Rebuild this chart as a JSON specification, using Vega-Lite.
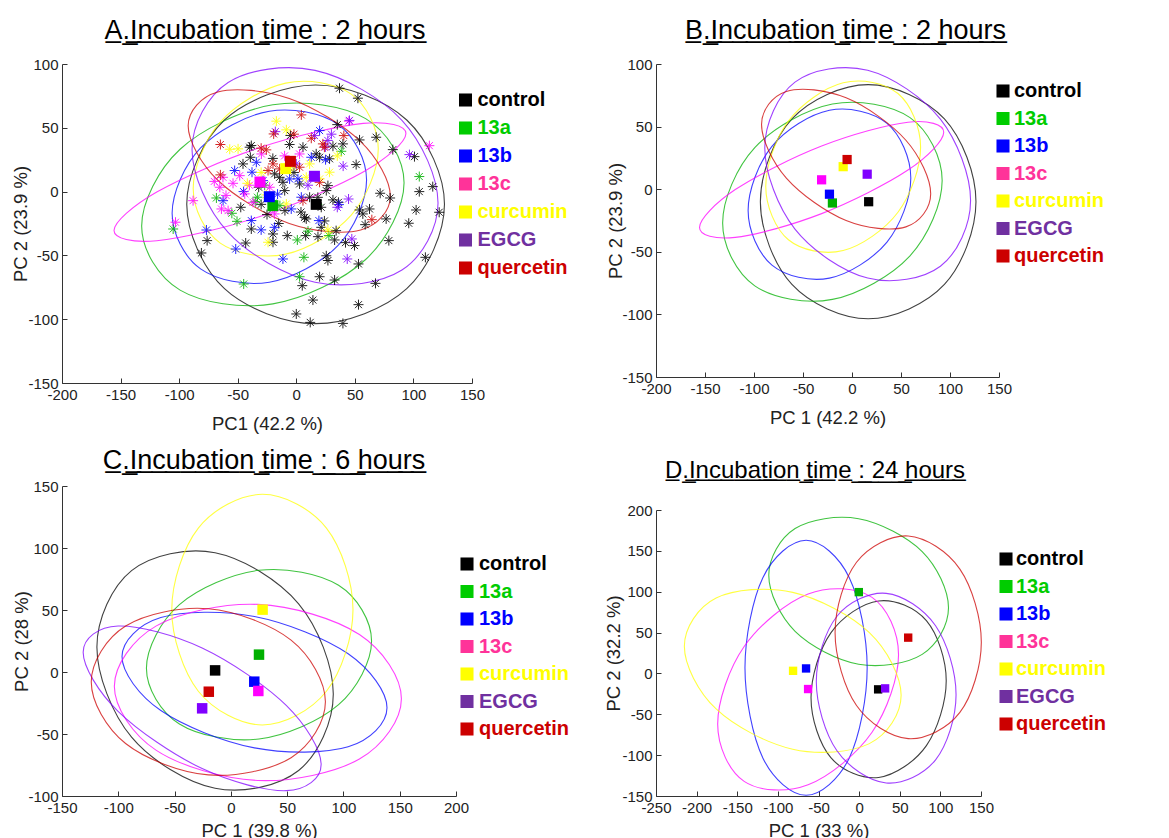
{
  "$schema": "https://vega.github.io/schema/vega-lite/v6.json",
  "background": "white",
  "padding": {"left": 11, "top": 17, "right": 0, "bottom": 0},
  "spacing": 34,
  "resolve": {"scale": {"color": "independent"}},
  "datasets": {
    "ellAB": [
      {"g":"control","i":0,"x":126.5,"y":-10},{"g":"control","i":1,"x":94.3,"y":56.1},{"g":"control","i":2,"x":16.5,"y":83.5},{"g":"control","i":3,"x":-61.3,"y":56.1},{"g":"control","i":4,"x":-93.5,"y":-10},{"g":"control","i":5,"x":-61.3,"y":-76.1},{"g":"control","i":6,"x":16.5,"y":-103.5},{"g":"control","i":7,"x":94.3,"y":-76.1},
      {"g":"13a","i":0,"x":92,"y":7},{"g":"13a","i":1,"x":59.2,"y":57.2},{"g":"13a","i":2,"x":-20,"y":68},{"g":"13a","i":3,"x":-99.2,"y":33.2},{"g":"13a","i":4,"x":-132,"y":-27},{"g":"13a","i":5,"x":-99.2,"y":-77.2},{"g":"13a","i":6,"x":-20,"y":-88},{"g":"13a","i":7,"x":59.2,"y":-53.2},
      {"g":"13b","i":0,"x":60,"y":9},{"g":"13b","i":1,"x":35.7,"y":52.6},{"g":"13b","i":2,"x":-23,"y":63},{"g":"13b","i":3,"x":-81.7,"y":34.2},{"g":"13b","i":4,"x":-106,"y":-17},{"g":"13b","i":5,"x":-81.7,"y":-60.6},{"g":"13b","i":6,"x":-23,"y":-71},{"g":"13b","i":7,"x":35.7,"y":-42.2},
      {"g":"13c","i":0,"x":93.6,"y":45.5},{"g":"13c","i":1,"x":57.1,"y":53.5},{"g":"13c","i":2,"x":-31,"y":34.5},{"g":"13c","i":3,"x":-119.1,"y":-0.3},{"g":"13c","i":4,"x":-155.6,"y":-30.5},{"g":"13c","i":5,"x":-119.1,"y":-38.5},{"g":"13c","i":6,"x":-31,"y":-19.5},{"g":"13c","i":7,"x":57.1,"y":15.3},
      {"g":"curcumin","i":0,"x":70,"y":33.6},{"g":"curcumin","i":1,"x":46.9,"y":76.4},{"g":"curcumin","i":2,"x":-9,"y":85},{"g":"curcumin","i":3,"x":-64.9,"y":54.4},{"g":"curcumin","i":4,"x":-88,"y":2.4},{"g":"curcumin","i":5,"x":-64.9,"y":-40.4},{"g":"curcumin","i":6,"x":-9,"y":-49},{"g":"curcumin","i":7,"x":46.9,"y":-18.4},
      {"g":"EGCG","i":0,"x":121,"y":-9},{"g":"EGCG","i":1,"x":90.2,"y":55.9},{"g":"EGCG","i":2,"x":16,"y":95},{"g":"EGCG","i":3,"x":-58.2,"y":85.5},{"g":"EGCG","i":4,"x":-89,"y":33},{"g":"EGCG","i":5,"x":-58.2,"y":-31.9},{"g":"EGCG","i":6,"x":16,"y":-71},{"g":"EGCG","i":7,"x":90.2,"y":-61.5},
      {"g":"quercetin","i":0,"x":80.3,"y":-3.6},{"g":"quercetin","i":1,"x":55,"y":39.1},{"g":"quercetin","i":2,"x":-6,"y":73},{"g":"quercetin","i":3,"x":-67,"y":78.1},{"g":"quercetin","i":4,"x":-92.3,"y":51.6},{"g":"quercetin","i":5,"x":-67,"y":8.9},{"g":"quercetin","i":6,"x":-6,"y":-25},{"g":"quercetin","i":7,"x":55,"y":-30.1}
    ],
    "meanAB": [
      {"g":"control","x":17,"y":-10},{"g":"13a","x":-20,"y":-11},{"g":"13b","x":-23,"y":-4},{"g":"13c","x":-31,"y":7.5},{"g":"curcumin","x":-9,"y":18},{"g":"EGCG","x":15.5,"y":12},{"g":"quercetin","x":-5,"y":23.7}
    ],
    "starsA": [
      {"g":"control","x":36.9,"y":81},{"g":"control","x":52.6,"y":73.2},{"g":"control","x":35,"y":52.5},{"g":"control","x":-5.7,"y":36.9},{"g":"control","x":68.2,"y":42.6},{"g":"control","x":54,"y":40.5},{"g":"control","x":31.3,"y":35.6},{"g":"control","x":39.8,"y":37.4},{"g":"control","x":82.4,"y":32.9},{"g":"control","x":100.9,"y":27.4},{"g":"control","x":-39.8,"y":34.8},{"g":"control","x":19.9,"y":26.9},{"g":"control","x":51.1,"y":21.2},{"g":"control","x":116.5,"y":3.9},{"g":"control","x":105,"y":0},{"g":"control","x":122,"y":-16.2},{"g":"control","x":102.3,"y":-14.4},{"g":"control","x":71.6,"y":-1.3},{"g":"control","x":80.1,"y":-5},{"g":"control","x":54,"y":-14.4},{"g":"control","x":62.5,"y":-13.6},{"g":"control","x":58.8,"y":-25.9},{"g":"control","x":76.7,"y":-21.4},{"g":"control","x":96,"y":-24.8},{"g":"control","x":79,"y":-38.4},{"g":"control","x":110.2,"y":-51.5},{"g":"control","x":67.6,"y":-71.9},{"g":"control","x":53.1,"y":-88.6},{"g":"control","x":39.8,"y":-103.3},{"g":"control","x":11.9,"y":-102.5},{"g":"control","x":0,"y":-95.9},{"g":"control","x":14.2,"y":-85},{"g":"control","x":19.9,"y":-66.7},{"g":"control","x":32.7,"y":-69.3},{"g":"control","x":5.1,"y":-73.7},{"g":"control","x":53.1,"y":-56.7},{"g":"control","x":27,"y":-54},{"g":"control","x":25.6,"y":-50.3},{"g":"control","x":49.7,"y":-42.3},{"g":"control","x":32.7,"y":-37.9},{"g":"control","x":34,"y":-30.6},{"g":"control","x":18.5,"y":-35.3},{"g":"control","x":8,"y":-34.5},{"g":"control","x":-7.7,"y":-34.5},{"g":"control","x":-19.9,"y":-39.7},{"g":"control","x":-19.9,"y":-33.2},{"g":"control","x":8.5,"y":-21.4},{"g":"control","x":7.1,"y":-20.2},{"g":"control","x":21.3,"y":-28},{"g":"control","x":31.3,"y":-6.5},{"g":"control","x":36,"y":-8.4},{"g":"control","x":18.4,"y":-4.5},{"g":"control","x":21.3,"y":-12.3},{"g":"control","x":56.8,"y":-17.5},{"g":"control","x":-14.2,"y":11.2},{"g":"control","x":-9.9,"y":0.8},{"g":"control","x":-76.1,"y":-38.4},{"g":"control","x":-81,"y":-48.1},{"g":"control","x":-43.2,"y":-40.3},{"g":"control","x":-38.4,"y":-29.3},{"g":"control","x":-47.4,"y":-12.3},{"g":"control","x":-45.5,"y":21.7},{"g":"control","x":-39.2,"y":26.9},{"g":"control","x":-18.5,"y":13.9},{"g":"control","x":-32.1,"y":3.4},{"g":"control","x":-11.4,"y":7.3},{"g":"control","x":2.8,"y":6},{"g":"control","x":27,"y":4.7},{"g":"control","x":11.4,"y":-4.4},{"g":"control","x":25.6,"y":0.8},{"g":"control","x":-9.7,"y":-14.9},{"g":"control","x":-38.4,"y":36.1},{"g":"control","x":-5,"y":44},{"g":"control","x":-20,"y":26},{"g":"control","x":-2,"y":15},{"g":"control","x":24,"y":-23},{"g":"control","x":-25,"y":-18},{"g":"control","x":4,"y":-16},{"g":"control","x":28.4,"y":25.7},{"g":"control","x":17,"y":29.6},{"g":"control","x":5.7,"y":34.8},{"g":"control","x":-30,"y":-10},{"g":"control","x":-15,"y":-25},{"g":"control","x":42,"y":-40},
      {"g":"13a","x":38.4,"y":31.6},{"g":"13a","x":105,"y":11.8},{"g":"13a","x":2.8,"y":-66.7},{"g":"13a","x":27.8,"y":-34.5},{"g":"13a","x":0.9,"y":-37.9},{"g":"13a","x":6.5,"y":-51.5},{"g":"13a","x":-105.1,"y":-29.3},{"g":"13a","x":-44.9,"y":-72.4},{"g":"13a","x":-50.6,"y":-23.3},{"g":"13a","x":-68.2,"y":-5},{"g":"13a","x":-33.2,"y":-4.4},{"g":"13a","x":-20,"y":-9},{"g":"13a","x":-14,"y":-11},{"g":"13a","x":10,"y":-31},{"g":"13a","x":18,"y":-10},{"g":"13a","x":-27,"y":5},{"g":"13a","x":-55,"y":-17},{"g":"13a","x":-35,"y":-8},
      {"g":"13b","x":19.9,"y":47.8},{"g":"13b","x":-11.4,"y":-52.8},{"g":"13b","x":-18.5,"y":-28},{"g":"13b","x":19.3,"y":-22.7},{"g":"13b","x":-4.3,"y":-13.6},{"g":"13b","x":-76.7,"y":-30.1},{"g":"13b","x":-51.7,"y":-45},{"g":"13b","x":-38.4,"y":-22.7},{"g":"13b","x":-62.5,"y":-7.1},{"g":"13b","x":-52.6,"y":16.5},{"g":"13b","x":-37.8,"y":15.2},{"g":"13b","x":-34.1,"y":23},{"g":"13b","x":-28.4,"y":8.6},{"g":"13b","x":-5.7,"y":9.9},{"g":"13b","x":12.8,"y":26.9},{"g":"13b","x":4.3,"y":-4.4},{"g":"13b","x":36.4,"y":-10.2},{"g":"13b","x":-45,"y":0},{"g":"13b","x":-16,"y":-2},{"g":"13b","x":-30,"y":-30},{"g":"13b","x":25,"y":25},{"g":"13b","x":1.4,"y":10},
      {"g":"13c","x":44.9,"y":55.2},{"g":"13c","x":113.6,"y":36},{"g":"13c","x":2.8,"y":29.5},{"g":"13c","x":-88.1,"y":-7.1},{"g":"13c","x":-103.1,"y":-24},{"g":"13c","x":-63.9,"y":-13.6},{"g":"13c","x":-58.2,"y":-14.9},{"g":"13c","x":-65.3,"y":3.4},{"g":"13c","x":-54,"y":6.5},{"g":"13c","x":-48.3,"y":12.5},{"g":"13c","x":-44,"y":-1.8},{"g":"13c","x":-29.8,"y":29.5},{"g":"13c","x":-36.9,"y":-8.4},{"g":"13c","x":-18.5,"y":-17.5},{"g":"13c","x":-22.7,"y":3.4},{"g":"13c","x":-60,"y":-3},{"g":"13c","x":-40,"y":5},{"g":"13c","x":-70,"y":8},{"g":"13c","x":-10,"y":28},{"g":"13c","x":-62.6,"y":11.2},
      {"g":"curcumin","x":-17,"y":55.2},{"g":"curcumin","x":-8.5,"y":48.4},{"g":"curcumin","x":-56.8,"y":33.2},{"g":"curcumin","x":-49.7,"y":33.5},{"g":"curcumin","x":-41.8,"y":6.5},{"g":"curcumin","x":-25.6,"y":-2.6},{"g":"curcumin","x":11.4,"y":21.7},{"g":"curcumin","x":28.4,"y":15.2},{"g":"curcumin","x":8.5,"y":11.2},{"g":"curcumin","x":-8.5,"y":-9.7},{"g":"curcumin","x":-24.1,"y":-39.7},{"g":"curcumin","x":-3,"y":20},{"g":"curcumin","x":20,"y":10},{"g":"curcumin","x":-30,"y":15},{"g":"curcumin","x":35,"y":28},{"g":"curcumin","x":27,"y":-30},
      {"g":"EGCG","x":-17.9,"y":47},{"g":"EGCG","x":15.6,"y":43.9},{"g":"EGCG","x":96.6,"y":29},{"g":"EGCG","x":43.5,"y":-52.8},{"g":"EGCG","x":47.4,"y":-37.1},{"g":"EGCG","x":35,"y":-12.3},{"g":"EGCG","x":0,"y":21.7},{"g":"EGCG","x":25,"y":35},{"g":"EGCG","x":40,"y":20},{"g":"EGCG","x":30,"y":45},{"g":"EGCG","x":10,"y":5},{"g":"EGCG","x":44.6,"y":-5.8},{"g":"EGCG","x":45.4,"y":55.8},{"g":"EGCG","x":26.9,"y":40.1},
      {"g":"quercetin","x":4.3,"y":60.1},{"g":"quercetin","x":-19.3,"y":45.2},{"g":"quercetin","x":12.8,"y":41.8},{"g":"quercetin","x":40.6,"y":43.9},{"g":"quercetin","x":-64.8,"y":36.9},{"g":"quercetin","x":-30,"y":34},{"g":"quercetin","x":-25.6,"y":32.7},{"g":"quercetin","x":24,"y":34.8},{"g":"quercetin","x":64.5,"y":-22},{"g":"quercetin","x":-64.8,"y":13.1},{"g":"quercetin","x":-19.9,"y":21.7},{"g":"quercetin","x":-24.1,"y":16.5},{"g":"quercetin","x":-14.2,"y":17.8},{"g":"quercetin","x":2.8,"y":19.1},{"g":"quercetin","x":19.9,"y":7.3},{"g":"quercetin","x":5.7,"y":-7.1},{"g":"quercetin","x":-2,"y":45},{"g":"quercetin","x":22.7,"y":37.4}
    ],
    "ellC": [
      {"g":"control","i":0,"x":91,"y":-17.8},{"g":"control","i":1,"x":60.2,"y":55},{"g":"control","i":2,"x":-14,"y":96.2},{"g":"control","i":3,"x":-88.2,"y":81.8},{"g":"control","i":4,"x":-119,"y":20.2},{"g":"control","i":5,"x":-88.2,"y":-52.6},{"g":"control","i":6,"x":-14,"y":-93.8},{"g":"control","i":7,"x":60.2,"y":-79.4},
      {"g":"13a","i":0,"x":125,"y":25},{"g":"13a","i":1,"x":95.7,"y":69.9},{"g":"13a","i":2,"x":25,"y":82},{"g":"13a","i":3,"x":-45.7,"y":54.3},{"g":"13a","i":4,"x":-75,"y":3},{"g":"13a","i":5,"x":-45.7,"y":-41.9},{"g":"13a","i":6,"x":25,"y":-54},{"g":"13a","i":7,"x":95.7,"y":-26.3},
      {"g":"13b","i":0,"x":138.7,"y":-28.8},{"g":"13b","i":1,"x":104.2,"y":14.7},{"g":"13b","i":2,"x":21,"y":44.8},{"g":"13b","i":3,"x":-62.2,"y":43.9},{"g":"13b","i":4,"x":-96.7,"y":12.4},{"g":"13b","i":5,"x":-62.2,"y":-31.1},{"g":"13b","i":6,"x":21,"y":-61.2},{"g":"13b","i":7,"x":104.2,"y":-60.3},
      {"g":"13c","i":0,"x":151.5,"y":-21.5},{"g":"13c","i":1,"x":114.2,"y":30.2},{"g":"13c","i":2,"x":24,"y":54.5},{"g":"13c","i":3,"x":-66.2,"y":37.2},{"g":"13c","i":4,"x":-103.5,"y":-11.5},{"g":"13c","i":5,"x":-66.2,"y":-63.2},{"g":"13c","i":6,"x":24,"y":-87.5},{"g":"13c","i":7,"x":114.2,"y":-70.2},
      {"g":"curcumin","i":0,"x":108.5,"y":50.3},{"g":"curcumin","i":1,"x":84.9,"y":116.1},{"g":"curcumin","i":2,"x":28,"y":143.3},{"g":"curcumin","i":3,"x":-28.9,"y":116.1},{"g":"curcumin","i":4,"x":-52.5,"y":50.3},{"g":"curcumin","i":5,"x":-28.9,"y":-15.5},{"g":"curcumin","i":6,"x":28,"y":-42.7},{"g":"curcumin","i":7,"x":84.9,"y":-15.5},
      {"g":"EGCG","i":0,"x":80.2,"y":-74.5},{"g":"EGCG","i":1,"x":49.2,"y":-26.9},{"g":"EGCG","i":2,"x":-25.5,"y":19.3},{"g":"EGCG","i":3,"x":-100.2,"y":37.1},{"g":"EGCG","i":4,"x":-131.2,"y":15.9},{"g":"EGCG","i":5,"x":-100.2,"y":-31.7},{"g":"EGCG","i":6,"x":-25.5,"y":-77.9},{"g":"EGCG","i":7,"x":49.2,"y":-95.7},
      {"g":"quercetin","i":0,"x":84,"y":-24},{"g":"quercetin","i":1,"x":53.5,"y":25.7},{"g":"quercetin","i":2,"x":-20,"y":51},{"g":"quercetin","i":3,"x":-93.5,"y":37.1},{"g":"quercetin","i":4,"x":-124,"y":-8},{"g":"quercetin","i":5,"x":-93.5,"y":-57.7},{"g":"quercetin","i":6,"x":-20,"y":-83},{"g":"quercetin","i":7,"x":53.5,"y":-69.1}
    ],
    "meanC": [
      {"g":"control","x":-14,"y":1.3},{"g":"13a","x":25,"y":14},{"g":"13b","x":20.8,"y":-7.8},{"g":"13c","x":24.4,"y":-15.3},{"g":"curcumin","x":28.2,"y":50.3},{"g":"EGCG","x":-25.5,"y":-29.3},{"g":"quercetin","x":-19.6,"y":-15.9}
    ],
    "ellD": [
      {"g":"control","i":0,"x":107.2,"y":-8.9},{"g":"control","i":1,"x":82.8,"y":64.5},{"g":"control","i":2,"x":24,"y":88.7},{"g":"control","i":3,"x":-34.8,"y":49.7},{"g":"control","i":4,"x":-59.2,"y":-29.7},{"g":"control","i":5,"x":-34.8,"y":-103.1},{"g":"control","i":6,"x":24,"y":-127.3},{"g":"control","i":7,"x":82.8,"y":-88.3},
      {"g":"13a","i":0,"x":110,"y":80.3},{"g":"13a","i":1,"x":77.6,"y":149.1},{"g":"13a","i":2,"x":-0.6,"y":189.3},{"g":"13a","i":3,"x":-78.8,"y":177.3},{"g":"13a","i":4,"x":-111.2,"y":120.3},{"g":"13a","i":5,"x":-78.8,"y":51.5},{"g":"13a","i":6,"x":-0.6,"y":11.3},{"g":"13a","i":7,"x":77.6,"y":23.3},
      {"g":"13b","i":0,"x":9.9,"y":6.9},{"g":"13b","i":1,"x":-12.1,"y":117.2},{"g":"13b","i":2,"x":-65.3,"y":162.9},{"g":"13b","i":3,"x":-118.5,"y":117.2},{"g":"13b","i":4,"x":-140.5,"y":6.9},{"g":"13b","i":5,"x":-118.5,"y":-103.4},{"g":"13b","i":6,"x":-65.3,"y":-149.1},{"g":"13b","i":7,"x":-12.1,"y":-103.4},
      {"g":"13c","i":0,"x":48.5,"y":23},{"g":"13c","i":1,"x":15.9,"y":93.1},{"g":"13c","i":2,"x":-62.8,"y":97.2},{"g":"13c","i":3,"x":-141.5,"y":32.9},{"g":"13c","i":4,"x":-174.1,"y":-62},{"g":"13c","i":5,"x":-141.5,"y":-132.1},{"g":"13c","i":6,"x":-62.8,"y":-136.2},{"g":"13c","i":7,"x":15.9,"y":-72},
      {"g":"curcumin","i":0,"x":51.7,"y":-26.8},{"g":"curcumin","i":1,"x":12.6,"y":49.9},{"g":"curcumin","i":2,"x":-81.7,"y":99.2},{"g":"curcumin","i":3,"x":-176,"y":92.3},{"g":"curcumin","i":4,"x":-215.1,"y":33.2},{"g":"curcumin","i":5,"x":-176,"y":-43.5},{"g":"curcumin","i":6,"x":-81.7,"y":-92.8},{"g":"curcumin","i":7,"x":12.6,"y":-85.9},
      {"g":"EGCG","i":0,"x":119.3,"y":-26},{"g":"EGCG","i":1,"x":94.1,"y":58.3},{"g":"EGCG","i":2,"x":33.3,"y":98},{"g":"EGCG","i":3,"x":-27.5,"y":69.7},{"g":"EGCG","i":4,"x":-52.7,"y":-10},{"g":"EGCG","i":5,"x":-27.5,"y":-94.3},{"g":"EGCG","i":6,"x":33.3,"y":-134},{"g":"EGCG","i":7,"x":94.1,"y":-105.7},
      {"g":"quercetin","i":0,"x":150.4,"y":38.2},{"g":"quercetin","i":1,"x":124,"y":127.7},{"g":"quercetin","i":2,"x":60.4,"y":168.2},{"g":"quercetin","i":3,"x":-3.2,"y":136.1},{"g":"quercetin","i":4,"x":-29.6,"y":50.2},{"g":"quercetin","i":5,"x":-3.2,"y":-39.3},{"g":"quercetin","i":6,"x":60.4,"y":-79.8},{"g":"quercetin","i":7,"x":124,"y":-47.7}
    ],
    "meanD": [
      {"g":"control","x":23.4,"y":-19.5},{"g":"13a","x":-0.4,"y":99.5},{"g":"13b","x":-65.3,"y":6.1},{"g":"13c","x":-62.8,"y":-19.1},{"g":"curcumin","x":-81.3,"y":3.2},{"g":"EGCG","x":32,"y":-18.3},{"g":"quercetin","x":60.4,"y":43.8}
    ]
  },
  "hconcat": [
    {
      "spacing": 103,
      "bounds": "flush",
      "resolve": {"scale": {"color": "independent"}},
      "vconcat": [
        {
          "width": 410, "height": 319,
          "title": {"text": "A\u0332.\u0332I\u0332n\u0332c\u0332u\u0332b\u0332a\u0332t\u0332i\u0332o\u0332n\u0332 \u0332t\u0332i\u0332m\u0332e\u0332 \u0332:\u0332 \u03322\u0332 \u0332h\u0332o\u0332u\u0332r\u0332s\u0332", "offset": 12, "dx": -2, "fontSize": 27},
          "encoding": {
            "x": {"field": "x", "type": "quantitative", "scale": {"domain": [-200, 150], "nice": false, "zero": false}, "axis": {"title": "PC1 (42.2 %)", "titlePadding": 12, "values": [-200, -150, -100, -50, 0, 50, 100, 150]}},
            "y": {"field": "y", "type": "quantitative", "scale": {"domain": [-150, 100], "nice": false, "zero": false}, "axis": {"title": "PC 2 (23.9 %)", "titlePadding": -3, "values": [-150, -100, -50, 0, 50, 100]}}
          },
          "layer": [
            {"data": {"name": "ellAB"}, "mark": {"type": "line", "interpolate": "cardinal-closed", "strokeWidth": 1.1, "opacity": 0.75},
             "encoding": {"stroke": {"field": "g", "type": "nominal", "legend": null, "scale": {"domain": ["control", "13a", "13b", "13c", "curcumin", "EGCG", "quercetin"], "range": ["#000000", "#00b000", "#0000ff", "#ff00ff", "#ffff00", "#8000ff", "#cc0000"]}}, "order": {"field": "i", "type": "quantitative"}}},
            {"data": {"name": "starsA"}, "mark": {"type": "point", "shape": "M -1 0 L 1 0 M 0 -1 L 0 1 M -0.7 -0.7 L 0.7 0.7 M -0.7 0.7 L 0.7 -0.7", "size": 100, "filled": false, "strokeWidth": 1, "opacity": 0.85},
             "encoding": {"stroke": {"field": "g", "type": "nominal", "legend": null}}},
            {"data": {"name": "meanAB"}, "mark": {"type": "square", "size": 121, "opacity": 1},
             "encoding": {"fill": {"field": "g", "type": "nominal", "legend": null, "scale": {"domain": ["control", "13a", "13b", "13c", "curcumin", "EGCG", "quercetin"], "range": ["#000000", "#00b000", "#0000ff", "#ff00ff", "#ffff00", "#8000ff", "#cc0000"]}}}},
            {"data": {"name": "meanAB"}, "mark": {"type": "square", "opacity": 0},
             "encoding": {"color": {"field": "g", "type": "nominal",
               "scale": {"domain": ["control", "13a", "13b", "13c", "curcumin", "EGCG", "quercetin"], "range": ["#000000", "#00cc00", "#0000ff", "#ff3399", "#ffff00", "#7030a0", "#cc0000"]},
               "legend": {"orient": "none", "legendX": 393.5, "legendY": 26, "title": null, "rowPadding": 8, "labelOffset": 2, "padding": 0, "symbolOpacity": 1,
                 "labelColor": {"expr": "['#000000','#00cc00','#0000ff','#ff3399','#ffff00','#7030a0','#cc0000'][indexof(['control','13a','13b','13c','curcumin','EGCG','quercetin'], datum.value)]"}}}}}
          ]
        },
        {
          "width": 394, "height": 310,
          "title": {"text": "C\u0332.\u0332I\u0332n\u0332c\u0332u\u0332b\u0332a\u0332t\u0332i\u0332o\u0332n\u0332 \u0332t\u0332i\u0332m\u0332e\u0332 \u0332:\u0332 \u03326\u0332 \u0332h\u0332o\u0332u\u0332r\u0332s\u0332", "offset": 4, "dx": 5, "fontSize": 27},
          "encoding": {
            "x": {"field": "x", "type": "quantitative", "scale": {"domain": [-150, 200], "nice": false, "zero": false}, "axis": {"title": "PC 1 (39.8 %)", "titlePadding": 6, "values": [-150, -100, -50, 0, 50, 100, 150, 200]}},
            "y": {"field": "y", "type": "quantitative", "scale": {"domain": [-100, 150], "nice": false, "zero": false}, "axis": {"title": "PC 2 (28 %)", "titlePadding": -4, "values": [-100, -50, 0, 50, 100, 150]}}
          },
          "layer": [
            {"data": {"name": "ellC"}, "mark": {"type": "line", "interpolate": "cardinal-closed", "strokeWidth": 1.1, "opacity": 0.75},
             "encoding": {"stroke": {"field": "g", "type": "nominal", "legend": null, "scale": {"domain": ["control", "13a", "13b", "13c", "curcumin", "EGCG", "quercetin"], "range": ["#000000", "#00b000", "#0000ff", "#ff00ff", "#ffff00", "#8000ff", "#cc0000"]}}, "order": {"field": "i", "type": "quantitative"}}},
            {"data": {"name": "meanC"}, "mark": {"type": "square", "size": 110, "opacity": 1},
             "encoding": {"fill": {"field": "g", "type": "nominal", "legend": null, "scale": {"domain": ["control", "13a", "13b", "13c", "curcumin", "EGCG", "quercetin"], "range": ["#000000", "#00b000", "#0000ff", "#ff00ff", "#ffff00", "#8000ff", "#cc0000"]}}}},
            {"data": {"name": "meanC"}, "mark": {"type": "square", "opacity": 0},
             "encoding": {"color": {"field": "g", "type": "nominal",
               "scale": {"domain": ["control", "13a", "13b", "13c", "curcumin", "EGCG", "quercetin"], "range": ["#000000", "#00cc00", "#0000ff", "#ff3399", "#ffff00", "#7030a0", "#cc0000"]},
               "legend": {"orient": "none", "legendX": 395, "legendY": 68, "title": null, "rowPadding": 7.5, "labelOffset": 2, "padding": 0, "symbolOpacity": 1,
                 "labelColor": {"expr": "['#000000','#00cc00','#0000ff','#ff3399','#ffff00','#7030a0','#cc0000'][indexof(['control','13a','13b','13c','curcumin','EGCG','quercetin'], datum.value)]"}}}}}
          ]
        }
      ]
    },
    {
      "spacing": 133,
      "bounds": "flush",
      "resolve": {"scale": {"color": "independent"}},
      "vconcat": [
        {
          "width": 343, "height": 313,
          "title": {"text": "B\u0332.\u0332I\u0332n\u0332c\u0332u\u0332b\u0332a\u0332t\u0332i\u0332o\u0332n\u0332 \u0332t\u0332i\u0332m\u0332e\u0332 \u0332:\u0332 \u03322\u0332 \u0332h\u0332o\u0332u\u0332r\u0332s\u0332", "offset": 12, "dx": 18, "fontSize": 27},
          "encoding": {
            "x": {"field": "x", "type": "quantitative", "scale": {"domain": [-200, 150], "nice": false, "zero": false}, "axis": {"title": "PC 1 (42.2 %)", "titlePadding": 12, "values": [-200, -150, -100, -50, 0, 50, 100, 150]}},
            "y": {"field": "y", "type": "quantitative", "scale": {"domain": [-150, 100], "nice": false, "zero": false}, "axis": {"title": "PC 2 (23.9 %)", "titlePadding": -4, "values": [-150, -100, -50, 0, 50, 100]}}
          },
          "layer": [
            {"data": {"name": "ellAB"}, "mark": {"type": "line", "interpolate": "cardinal-closed", "strokeWidth": 1.1, "opacity": 0.75},
             "encoding": {"stroke": {"field": "g", "type": "nominal", "legend": null, "scale": {"domain": ["control", "13a", "13b", "13c", "curcumin", "EGCG", "quercetin"], "range": ["#000000", "#00b000", "#0000ff", "#ff00ff", "#ffff00", "#8000ff", "#cc0000"]}}, "order": {"field": "i", "type": "quantitative"}}},
            {"data": {"name": "meanAB"}, "mark": {"type": "square", "size": 85, "opacity": 1},
             "encoding": {"fill": {"field": "g", "type": "nominal", "legend": null, "scale": {"domain": ["control", "13a", "13b", "13c", "curcumin", "EGCG", "quercetin"], "range": ["#000000", "#00b000", "#0000ff", "#ff00ff", "#ffff00", "#8000ff", "#cc0000"]}}}},
            {"data": {"name": "meanAB"}, "mark": {"type": "square", "opacity": 0},
             "encoding": {"color": {"field": "g", "type": "nominal",
               "scale": {"domain": ["control", "13a", "13b", "13c", "curcumin", "EGCG", "quercetin"], "range": ["#000000", "#00cc00", "#0000ff", "#ff3399", "#ffff00", "#7030a0", "#cc0000"]},
               "legend": {"orient": "none", "legendX": 337, "legendY": 17, "title": null, "rowPadding": 7.5, "labelOffset": 1, "padding": 0, "symbolOpacity": 1,
                 "labelColor": {"expr": "['#000000','#00cc00','#0000ff','#ff3399','#ffff00','#7030a0','#cc0000'][indexof(['control','13a','13b','13c','curcumin','EGCG','quercetin'], datum.value)]"}}}}}
          ]
        },
        {
          "width": 325, "height": 286,
          "title": {"text": "D\u0332.\u0332I\u0332n\u0332c\u0332u\u0332b\u0332a\u0332t\u0332i\u0332o\u0332n\u0332 \u0332t\u0332i\u0332m\u0332e\u0332 \u0332:\u0332 \u03322\u03324\u0332 \u0332h\u0332o\u0332u\u0332r\u0332s\u0332", "offset": 20, "dx": -3.5, "fontSize": 24},
          "encoding": {
            "x": {"field": "x", "type": "quantitative", "scale": {"domain": [-250, 150], "nice": false, "zero": false}, "axis": {"title": "PC 1 (33 %)", "titlePadding": 6, "values": [-250, -200, -150, -100, -50, 0, 50, 100, 150]}},
            "y": {"field": "y", "type": "quantitative", "scale": {"domain": [-150, 200], "nice": false, "zero": false}, "axis": {"title": "PC 2 (32.2 %)", "titlePadding": -2, "values": [-150, -100, -50, 0, 50, 100, 150, 200]}}
          },
          "layer": [
            {"data": {"name": "ellD"}, "mark": {"type": "line", "interpolate": "cardinal-closed", "strokeWidth": 1.1, "opacity": 0.75},
             "encoding": {"stroke": {"field": "g", "type": "nominal", "legend": null, "scale": {"domain": ["control", "13a", "13b", "13c", "curcumin", "EGCG", "quercetin"], "range": ["#000000", "#00b000", "#0000ff", "#ff00ff", "#ffff00", "#8000ff", "#cc0000"]}}, "order": {"field": "i", "type": "quantitative"}}},
            {"data": {"name": "meanD"}, "mark": {"type": "square", "size": 70, "opacity": 1},
             "encoding": {"fill": {"field": "g", "type": "nominal", "legend": null, "scale": {"domain": ["control", "13a", "13b", "13c", "curcumin", "EGCG", "quercetin"], "range": ["#000000", "#00b000", "#0000ff", "#ff00ff", "#ffff00", "#8000ff", "#cc0000"]}}}},
            {"data": {"name": "meanD"}, "mark": {"type": "square", "opacity": 0},
             "encoding": {"color": {"field": "g", "type": "nominal",
               "scale": {"domain": ["control", "13a", "13b", "13c", "curcumin", "EGCG", "quercetin"], "range": ["#000000", "#00cc00", "#0000ff", "#ff3399", "#ffff00", "#7030a0", "#cc0000"]},
               "legend": {"orient": "none", "legendX": 340, "legendY": 39, "title": null, "rowPadding": 7.5, "labelOffset": 0, "padding": 0, "symbolOpacity": 1,
                 "labelColor": {"expr": "['#000000','#00cc00','#0000ff','#ff3399','#ffff00','#7030a0','#cc0000'][indexof(['control','13a','13b','13c','curcumin','EGCG','quercetin'], datum.value)]"}}}}}
          ]
        }
      ]
    }
  ],
  "config": {
    "view": {"stroke": null},
    "font": "Liberation Sans",
    "axis": {"grid": false, "domainColor": "#333333", "tickColor": "#333333", "tickSize": -5, "labelPadding": 9, "labelFont": "Liberation Sans", "labelFontSize": 15, "labelColor": "#222222", "labelFlush": false, "labelOverlap": false, "labelExpr": "'' + datum.value", "titleFont": "Liberation Sans", "titleFontSize": 18.5, "titleFontWeight": "normal", "titleColor": "#222222"},
    "title": {"font": "Liberation Sans", "fontSize": 26, "fontWeight": "normal", "color": "#000000", "anchor": "middle", "baseline": "alphabetic"},
    "legend": {"labelFont": "Liberation Sans", "labelFontSize": 20, "labelFontWeight": "bold", "symbolType": "square", "symbolSize": 170}
  }
}
